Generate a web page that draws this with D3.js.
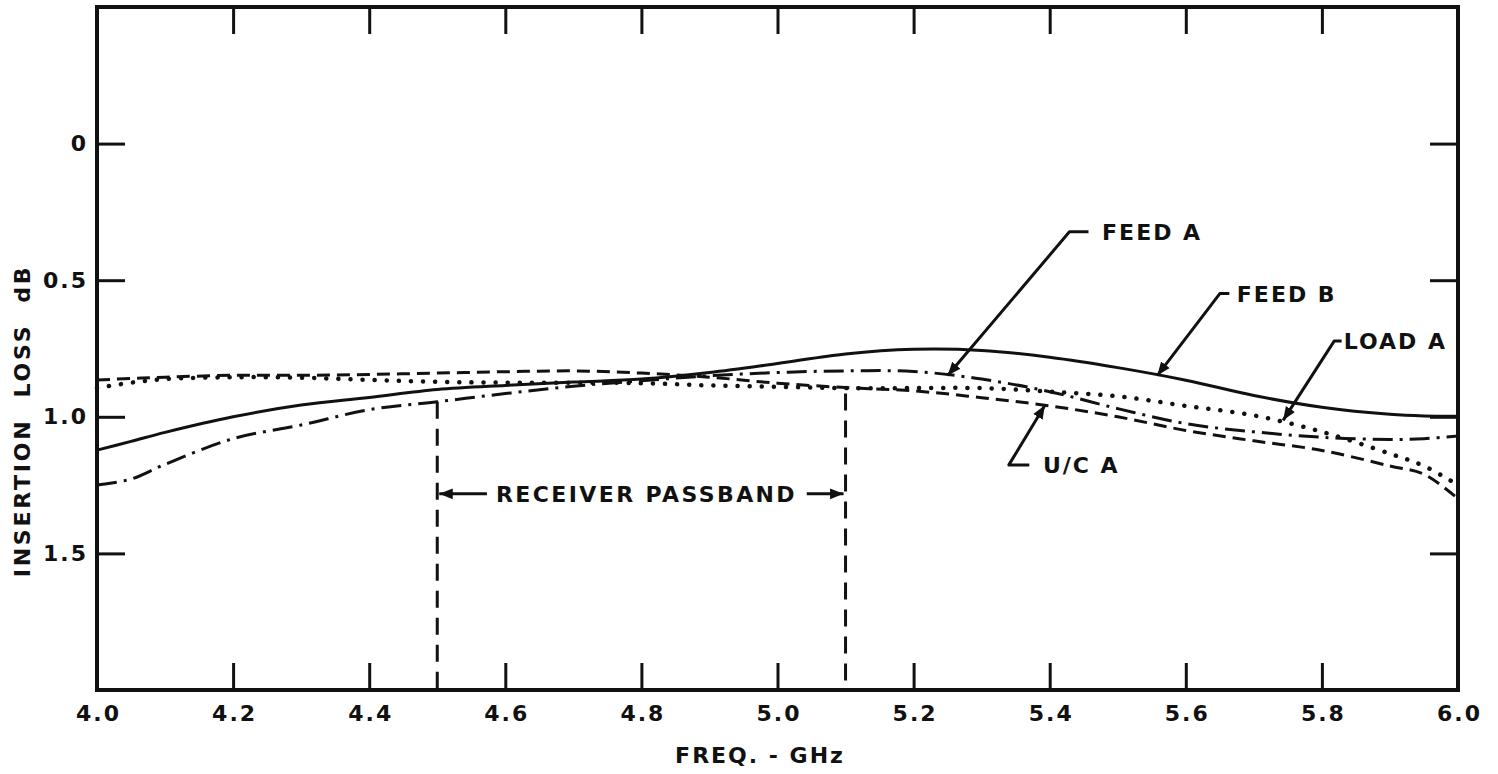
<!DOCTYPE html>
<html>
<head>
<meta charset="utf-8">
<script src="https://cdn.jsdelivr.net/npm/d3@7"></script>
<style>
    body { margin: 0; background: #fff; }
    text { font-family: "DejaVu Sans", sans-serif; font-weight: bold; fill: #111; }
</style>
</head>
<body>
<div class="container"></div>
<script>
// frequency points (GHz)
const freq = [4.0, 4.05, 4.1, 4.2, 4.3, 4.4, 4.5, 4.6, 4.7, 4.8, 4.9, 5.0,
              5.1, 5.2, 5.3, 5.4, 5.5, 5.6, 5.7, 5.8, 5.9, 5.95, 6.0];

// insertion loss, dB
const feedB = [1.122, 1.09, 1.057, 1.0, 0.957, 0.929, 0.90, 0.885, 0.873, 0.862, 0.838, 0.805,
               0.77, 0.753, 0.757, 0.782, 0.82, 0.866, 0.922, 0.965, 0.991, 0.997, 0.998];
const feedA = [1.25, 1.228, 1.174, 1.08, 1.03, 0.974, 0.945, 0.915, 0.888, 0.868, 0.85, 0.838,
               0.832, 0.834, 0.862, 0.908, 0.97, 1.025, 1.055, 1.075, 1.083, 1.08, 1.07];
const loadA = [0.895, 0.875, 0.862, 0.855, 0.857, 0.865, 0.872, 0.875, 0.875, 0.877, 0.885, 0.89,
               0.895, 0.895, 0.895, 0.908, 0.925, 0.96, 0.995, 1.055, 1.135, 1.18, 1.25];
const ucA   = [0.865, 0.86, 0.855, 0.848, 0.848, 0.845, 0.84, 0.835, 0.832, 0.84, 0.855, 0.877,
               0.893, 0.905, 0.93, 0.96, 1.0, 1.05, 1.088, 1.123, 1.18, 1.21, 1.30];

const xTicks = [4.0, 4.2, 4.4, 4.6, 4.8, 5.0, 5.2, 5.4, 5.6, 5.8, 6.0];
const yTicks = [0, 0.5, 1.0, 1.5];
const yLabels = ['0', '0.5', '1.0', '1.5'];

// receiver passband edges and where the dashed markers start
const passband = [4.5, 5.1];
const passTop = [0.945, 0.915];

// callouts: [text, text f, text dB, leader end f, bend f, arrow tip f, arrow tip dB]
const callouts = [
    ['FEED A', 5.477, 0.323, 5.457, 5.429, 5.25, 0.849],
    ['FEED B', 5.675, 0.549, 5.664, 5.65, 5.558, 0.849],
    ['LOAD A', 5.832, 0.723, 5.829, 5.818, 5.743, 1.013],
    ['U/C A', 5.39, 1.176, 5.37, 5.34, 5.393, 0.958]
];

const width = 1498;
const height = 774;
const margin = {top: 7, right: 40, bottom: 84, left: 97};

const svg = d3.select('.container')
    .append('svg')
    .attr('width', width)
    .attr('height', height);

const x = d3.scaleLinear().domain([4.0, 6.0]).range([margin.left, width - margin.right]);
const y = d3.scaleLinear().domain([-0.5, 2.0]).range([margin.top, height - margin.bottom]);

const ink = '#111';

// inward ticks on all four sides
svg.append('g')
    .attr('transform', 'translate(0,' + y(2.0) + ')')
    .call(d3.axisBottom(x).tickValues(xTicks).tickSize(-27).tickPadding(15).tickFormat(d3.format('.1f')))
    .call(g => g.select('.domain').remove())
    .call(g => g.selectAll('line').attr('stroke', ink).attr('stroke-width', 3))
    .call(g => g.selectAll('text').style('font-size', '22px').attr('letter-spacing', 2).attr('dx', 1));

svg.append('g')
    .attr('transform', 'translate(0,' + y(-0.5) + ')')
    .call(d3.axisTop(x).tickValues(xTicks).tickSize(-27).tickFormat(''))
    .call(g => g.select('.domain').remove())
    .call(g => g.selectAll('line').attr('stroke', ink).attr('stroke-width', 3));

svg.append('g')
    .attr('transform', 'translate(' + x(4.0) + ',0)')
    .call(d3.axisLeft(y).tickValues(yTicks).tickSize(-28).tickPadding(9).tickFormat((d, i) => yLabels[i]))
    .call(g => g.select('.domain').remove())
    .call(g => g.selectAll('line').attr('stroke', ink).attr('stroke-width', 3))
    .call(g => g.selectAll('text').style('font-size', '22px').attr('letter-spacing', 2));

svg.append('g')
    .attr('transform', 'translate(' + x(6.0) + ',0)')
    .call(d3.axisRight(y).tickValues(yTicks).tickSize(-28).tickFormat(''))
    .call(g => g.select('.domain').remove())
    .call(g => g.selectAll('line').attr('stroke', ink).attr('stroke-width', 3));

// frame
svg.append('rect')
    .attr('x', x(4.0))
    .attr('y', y(-0.5))
    .attr('width', x(6.0) - x(4.0))
    .attr('height', y(2.0) - y(-0.5))
    .attr('fill', 'none')
    .attr('stroke', ink)
    .attr('stroke-width', 4);

// curves
const line = d3.line()
    .x((d, i) => x(freq[i]))
    .y(d => y(d))
    .curve(d3.curveCatmullRom);

const series = [
    {name: 'FEED B', values: feedB, dash: null},
    {name: 'FEED A', values: feedA, dash: '20,7,3,7'},
    {name: 'LOAD A', values: loadA, dash: '0.1,12'},
    {name: 'U/C A', values: ucA, dash: '13,7'}
];

svg.selectAll('path.curve')
    .data(series)
    .enter()
    .append('path')
    .attr('class', 'curve')
    .attr('d', d => line(d.values))
    .attr('fill', 'none')
    .attr('stroke', ink)
    .attr('stroke-width', d => d.name === 'LOAD A' ? 4.5 : 3)
    .attr('stroke-linecap', d => d.name === 'LOAD A' ? 'round' : 'butt')
    .attr('stroke-dasharray', d => d.dash);

// passband markers
svg.selectAll('line.pass')
    .data(passband)
    .enter()
    .append('line')
    .attr('class', 'pass')
    .attr('x1', d => x(d))
    .attr('x2', d => x(d))
    .attr('y1', (d, i) => y(passTop[i]))
    .attr('y2', y(2.0))
    .attr('stroke', ink)
    .attr('stroke-width', 3)
    .attr('stroke-dasharray', '17,10');

const defs = svg.append('defs');
defs.append('marker')
    .attr('id', 'arrow')
    .attr('viewBox', '0 0 10 10')
    .attr('refX', 10)
    .attr('refY', 5)
    .attr('markerWidth', 4.5)
    .attr('markerHeight', 4.5)
    .attr('markerUnits', 'strokeWidth')
    .attr('orient', 'auto')
    .append('path')
    .attr('d', 'M0,1 L10,5 L0,9 Z')
    .attr('fill', ink);

const passY = y(1.282);
svg.append('line')
    .attr('x1', x(4.573)).attr('x2', x(4.5) + 2)
    .attr('y1', passY).attr('y2', passY)
    .attr('stroke', ink).attr('stroke-width', 3)
    .attr('marker-end', 'url(#arrow)');
svg.append('line')
    .attr('x1', x(5.043)).attr('x2', x(5.1) - 2)
    .attr('y1', passY).attr('y2', passY)
    .attr('stroke', ink).attr('stroke-width', 3)
    .attr('marker-end', 'url(#arrow)');
svg.append('text')
    .attr('x', (x(4.585) + x(5.03)) / 2)
    .attr('y', passY)
    .attr('dy', '0.36em')
    .attr('text-anchor', 'middle')
    .attr('letter-spacing', 2.4)
    .style('font-size', '22px')
    .text('RECEIVER PASSBAND');

// callouts
const co = svg.selectAll('g.callout')
    .data(callouts)
    .enter()
    .append('g')
    .attr('class', 'callout');

co.append('path')
    .attr('d', d => 'M' + x(d[3]) + ',' + y(d[2]) + 'L' + x(d[4]) + ',' + y(d[2]) + 'L' + x(d[5]) + ',' + y(d[6]))
    .attr('fill', 'none')
    .attr('stroke', ink)
    .attr('stroke-width', 3)
    .attr('stroke-linejoin', 'round')
    .attr('marker-end', 'url(#arrow)');

co.append('text')
    .attr('x', d => x(d[1]))
    .attr('y', d => y(d[2]))
    .attr('dy', '0.36em')
    .attr('letter-spacing', 2)
    .style('font-size', '22px')
    .text(d => d[0]);

// axis titles
svg.append('text')
    .attr('transform', 'translate(22,421) rotate(-90)')
    .attr('text-anchor', 'middle')
    .attr('dy', '0.36em')
    .attr('letter-spacing', 2.8)
    .style('font-size', '22px')
    .style('white-space', 'pre')
    .text('INSERTION  LOSS  dB');

svg.append('text')
    .attr('x', 760)
    .attr('y', 755)
    .attr('dy', '0.36em')
    .attr('text-anchor', 'middle')
    .attr('letter-spacing', 2)
    .style('font-size', '22px')
    .style('white-space', 'pre')
    .text('FREQ. - GHz');
</script>
</body>
</html>
